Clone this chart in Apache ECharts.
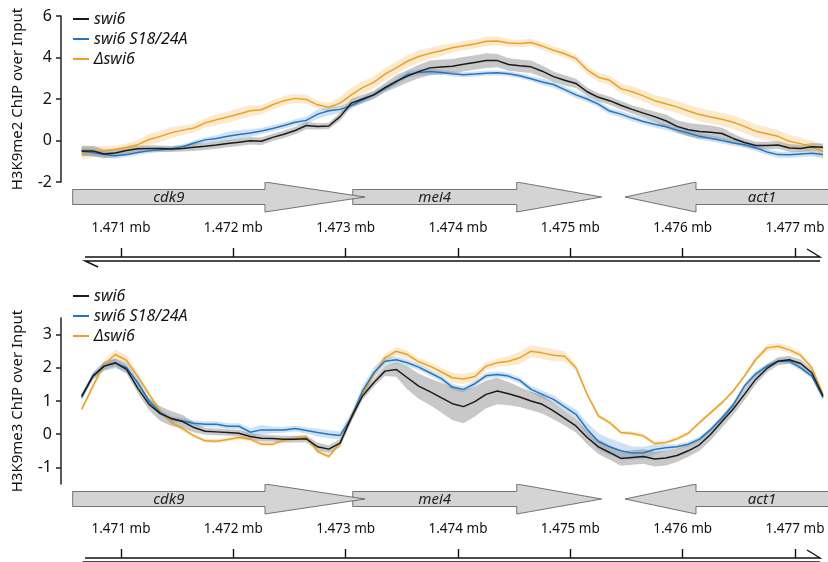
<!DOCTYPE html>
<html>
<head>
<meta charset="utf-8">
<script src="https://cdn.jsdelivr.net/npm/echarts@6/dist/echarts.min.js"></script>
<style>
html, body { margin: 0; padding: 0; background: #fff; }
#chart { width: 828px; height: 562px; }
</style>
</head>
<body>
<div id="chart"></div>
<script>
// genomic positions of the profile bins (kb)
const pos = [1470.65,1470.75,1470.85,1470.95,1471.05,1471.15,1471.25,1471.35,1471.45,1471.55,
  1471.65,1471.75,1471.85,1471.95,1472.05,1472.15,1472.25,1472.35,1472.45,1472.55,
  1472.65,1472.75,1472.85,1472.95,1473.05,1473.15,1473.25,1473.35,1473.45,1473.55,
  1473.65,1473.75,1473.85,1473.95,1474.05,1474.15,1474.25,1474.35,1474.45,1474.55,
  1474.65,1474.75,1474.85,1474.95,1475.05,1475.15,1475.25,1475.35,1475.45,1475.55,
  1475.65,1475.75,1475.85,1475.95,1476.05,1476.15,1476.25,1476.35,1476.45,1476.55,
  1476.65,1476.75,1476.85,1476.95,1477.05,1477.15,1477.25];

const names = ['swi6', 'swi6 S18/24A', '\u0394swi6'];

// H3K9me2 (top panel)
const me2_swi6 = [-0.5,-0.5,-0.65,-0.6,-0.48,-0.4,-0.38,-0.39,-0.41,-0.38,
  -0.33,-0.28,-0.22,-0.15,-0.08,-0.01,-0.04,0.15,0.3,0.48,
  0.72,0.68,0.7,1.15,1.8,2.0,2.2,2.55,2.85,3.1,
  3.32,3.5,3.54,3.58,3.67,3.76,3.85,3.85,3.66,3.6,
  3.55,3.34,3.08,2.9,2.75,2.35,2.08,1.92,1.7,1.5,
  1.32,1.15,0.95,0.68,0.52,0.43,0.4,0.34,0.1,-0.1,
  -0.24,-0.24,-0.22,-0.36,-0.38,-0.3,-0.33];
const me2_swi6_err = [0.25,0.25,0.22,0.2,0.15,0.15,0.15,0.15,0.15,0.15,
  0.18,0.18,0.18,0.18,0.18,0.18,0.18,0.18,0.18,0.18,
  0.18,0.15,0.15,0.2,0.2,0.2,0.2,0.22,0.3,0.3,
  0.32,0.35,0.35,0.35,0.35,0.35,0.35,0.32,0.3,0.3,
  0.3,0.28,0.25,0.25,0.22,0.2,0.2,0.2,0.2,0.2,
  0.22,0.25,0.3,0.3,0.32,0.35,0.32,0.28,0.22,0.2,
  0.18,0.18,0.18,0.18,0.18,0.18,0.18];
const me2_sa = [-0.52,-0.58,-0.67,-0.73,-0.68,-0.58,-0.5,-0.44,-0.4,-0.3,
  -0.12,0.03,0.1,0.2,0.29,0.36,0.46,0.58,0.72,0.88,
  0.97,1.27,1.43,1.5,1.68,1.95,2.2,2.5,2.82,3.18,
  3.28,3.32,3.28,3.22,3.17,3.2,3.24,3.26,3.22,3.12,
  2.98,2.82,2.7,2.45,2.2,2.0,1.75,1.42,1.27,1.08,
  0.92,0.78,0.66,0.5,0.36,0.2,0.1,0.0,-0.12,-0.2,
  -0.35,-0.55,-0.68,-0.69,-0.65,-0.62,-0.68];
const me2_sa_err = [0.18,0.18,0.15,0.15,0.12,0.12,0.12,0.12,0.12,0.12,
  0.12,0.12,0.15,0.22,0.22,0.18,0.15,0.15,0.15,0.15,
  0.18,0.22,0.22,0.18,0.15,0.15,0.15,0.15,0.15,0.15,
  0.15,0.15,0.12,0.12,0.12,0.12,0.12,0.12,0.12,0.12,
  0.12,0.15,0.15,0.15,0.15,0.15,0.15,0.15,0.15,0.15,
  0.15,0.15,0.15,0.15,0.15,0.15,0.15,0.15,0.15,0.15,
  0.15,0.15,0.15,0.15,0.15,0.15,0.15];
const me2_del = [-0.62,-0.55,-0.5,-0.42,-0.33,-0.2,0.05,0.2,0.38,0.5,
  0.6,0.85,1.0,1.13,1.28,1.43,1.48,1.72,1.92,2.03,
  1.98,1.72,1.6,1.8,2.2,2.55,2.8,3.2,3.5,3.82,
  4.05,4.2,4.33,4.47,4.57,4.65,4.78,4.8,4.7,4.68,
  4.72,4.55,4.35,4.18,3.95,3.4,3.05,2.9,2.5,2.35,
  2.15,1.92,1.77,1.62,1.42,1.25,1.13,1.02,0.88,0.68,
  0.45,0.33,0.2,-0.04,-0.15,-0.3,-0.55];
const me2_del_err = [0.3,0.27,0.22,0.18,0.18,0.22,0.27,0.27,0.27,0.22,
  0.22,0.22,0.27,0.27,0.27,0.27,0.22,0.22,0.22,0.22,
  0.22,0.18,0.22,0.3,0.35,0.3,0.3,0.3,0.3,0.3,
  0.3,0.27,0.27,0.22,0.22,0.22,0.22,0.22,0.18,0.18,
  0.18,0.18,0.18,0.18,0.18,0.22,0.22,0.22,0.22,0.27,
  0.27,0.27,0.3,0.3,0.3,0.32,0.32,0.32,0.32,0.32,
  0.32,0.32,0.3,0.3,0.3,0.3,0.35];

// H3K9me3 (bottom panel)
const me3_swi6 = [1.15,1.75,2.05,2.15,1.95,1.38,0.9,0.62,0.47,0.38,
  0.2,0.09,0.07,0.05,0.03,-0.07,-0.12,-0.13,-0.15,-0.15,
  -0.14,-0.38,-0.45,-0.27,0.5,1.15,1.55,1.9,1.95,1.7,
  1.45,1.28,1.1,0.92,0.83,0.98,1.2,1.3,1.22,1.12,
  1.0,0.9,0.7,0.48,0.25,-0.1,-0.38,-0.55,-0.73,-0.7,
  -0.67,-0.75,-0.72,-0.64,-0.5,-0.32,0.0,0.38,0.76,1.2,
  1.65,1.98,2.2,2.24,2.13,1.85,1.15];
const me3_swi6_err = [0.08,0.1,0.12,0.12,0.12,0.15,0.18,0.22,0.22,0.2,
  0.15,0.1,0.1,0.1,0.1,0.1,0.1,0.1,0.1,0.1,
  0.1,0.12,0.12,0.12,0.12,0.12,0.12,0.15,0.22,0.35,
  0.38,0.4,0.45,0.5,0.5,0.45,0.42,0.4,0.35,0.3,
  0.28,0.28,0.25,0.22,0.2,0.2,0.22,0.22,0.22,0.22,
  0.22,0.22,0.22,0.2,0.18,0.18,0.18,0.18,0.18,0.18,
  0.15,0.12,0.12,0.12,0.12,0.1,0.1];
const me3_sa = [1.1,1.75,2.05,2.14,2.0,1.55,1.0,0.65,0.46,0.4,
  0.33,0.3,0.3,0.24,0.24,0.06,0.13,0.13,0.13,0.17,
  0.11,0.05,0.0,-0.04,0.5,1.3,1.85,2.2,2.24,2.15,
  2.02,1.85,1.68,1.42,1.35,1.52,1.76,1.8,1.75,1.62,
  1.35,1.2,1.05,0.82,0.6,0.15,-0.22,-0.38,-0.5,-0.57,
  -0.56,-0.46,-0.41,-0.38,-0.3,-0.15,0.14,0.48,0.88,1.45,
  1.82,2.05,2.2,2.2,2.0,1.75,1.1];
const me3_sa_err = [0.06,0.1,0.15,0.15,0.15,0.12,0.08,0.08,0.08,0.08,
  0.08,0.09,0.09,0.09,0.09,0.12,0.15,0.1,0.09,0.09,
  0.09,0.12,0.12,0.12,0.15,0.15,0.15,0.15,0.1,0.1,
  0.09,0.09,0.09,0.09,0.09,0.09,0.09,0.09,0.09,0.09,
  0.1,0.12,0.12,0.12,0.15,0.2,0.25,0.25,0.25,0.2,
  0.18,0.15,0.1,0.08,0.08,0.08,0.08,0.08,0.08,0.08,
  0.08,0.08,0.08,0.08,0.08,0.08,0.08];
const me3_del = [0.75,1.45,2.1,2.4,2.22,1.73,1.2,0.7,0.35,0.16,
  -0.05,-0.2,-0.21,-0.16,-0.1,-0.15,-0.3,-0.3,-0.18,-0.12,
  -0.08,-0.52,-0.67,-0.27,0.45,1.2,1.8,2.3,2.5,2.4,
  2.18,2.05,1.88,1.7,1.66,1.74,2.05,2.15,2.2,2.3,
  2.5,2.45,2.38,2.35,2.0,1.2,0.55,0.35,0.05,0.02,
  -0.05,-0.28,-0.25,-0.14,0.03,0.35,0.65,0.95,1.3,1.75,
  2.25,2.6,2.65,2.54,2.38,2.0,1.2];
const me3_del_err = [0.06,0.1,0.12,0.15,0.15,0.12,0.1,0.06,0.06,0.06,
  0.06,0.06,0.06,0.06,0.06,0.06,0.06,0.06,0.06,0.06,
  0.06,0.06,0.06,0.06,0.06,0.06,0.1,0.12,0.12,0.12,
  0.1,0.12,0.12,0.15,0.15,0.15,0.12,0.12,0.15,0.18,
  0.18,0.18,0.18,0.15,0.1,0.06,0.06,0.06,0.06,0.06,
  0.06,0.06,0.06,0.06,0.06,0.06,0.06,0.06,0.06,0.06,
  0.08,0.1,0.1,0.1,0.1,0.08,0.08];

// gene track (kb): tail end, arrow tip, start of arrow head
const geneNames = ['cdk9', 'mei4', 'act1'];
const geneTail = [1470.570, 1473.063, 1477.900];
const geneTip = [1473.172, 1475.279, 1475.487];
const geneHead = [1472.282, 1474.523, 1476.119];
const strandSpan = [1470.68, 1477.223];
const tickKb = [1471, 1472, 1473, 1474, 1475, 1476, 1477];

const FONT = 'Noto Sans';
const colors = ['#1a1a1a', '#1f76c2', '#eca122'];
const fills = ['rgba(110,110,110,0.38)', 'rgba(40,120,200,0.22)', 'rgba(240,170,60,0.25)'];
const xMin = 1470.466, xMax = 1477.294;

const chart = echarts.init(document.getElementById('chart'), null, {renderer: 'canvas'});

function pairs(arr) {
    return arr.map((v, i) => [pos[i], v]);
}

// shaded error band: one polygon through mean+err and back along mean-err
function bandSeries(idx, mean, err, fill) {
    return {
        type: 'custom', xAxisIndex: idx, yAxisIndex: idx, silent: true, z: 1,
        clip: false, animation: false,
        data: [[pos[0], mean[0]]],
        renderItem: function (params, api) {
            const upper = mean.map((m, i) => api.coord([pos[i], m + err[i]]));
            const lower = mean.map((m, i) => api.coord([pos[i], m - err[i]])).reverse();
            return {type: 'polygon', shape: {points: upper.concat(lower)}, style: {fill: fill}};
        }
    };
}

function lineSeries(idx, k, data) {
    return {
        type: 'line', name: names[k], xAxisIndex: idx, yAxisIndex: idx, data: pairs(data),
        symbol: 'none', color: colors[k], lineStyle: {width: 1.5, color: colors[k]}, z: 3,
        animation: false
    };
}

function renderGene(params, api) {
    const cs = params.coordSys;
    const tail = api.coord([api.value(0), 0])[0];
    const tip = api.coord([api.value(1), 0])[0];
    const head = api.coord([api.value(2), 0])[0];
    const yc = cs.y + 15;
    const pts = [[tail, yc - 7.5], [head, yc - 7.5], [head, yc - 15], [tip, yc],
        [head, yc + 15], [head, yc + 7.5], [tail, yc + 7.5]];
    const tailVis = Math.max(cs.x, Math.min(cs.x + cs.width, tail));
    return {
        type: 'group',
        children: [
            {type: 'polygon', shape: {points: pts},
             style: {fill: '#d4d4d4', stroke: '#555', lineWidth: 0.8}},
            {type: 'text', x: (tailVis + head) / 2, y: yc + 0.5,
             style: {text: geneNames[api.value(3)], fontFamily: FONT, fontStyle: 'italic',
                     fontSize: 15, fill: '#222', align: 'center', verticalAlign: 'middle'}}
        ]
    };
}

function renderStrand(params, api) {
    const cs = params.coordSys;
    const x1 = api.coord([api.value(0), 0])[0];
    const x2 = api.coord([api.value(1), 0])[0];
    const y = cs.y + cs.height;
    const st = {stroke: '#111', lineWidth: 1.4, fill: null};
    return {
        type: 'group',
        children: [
            {type: 'polyline', shape: {points: [[x1, y], [x2, y], [x2 - 13, y - 8]]}, style: st},
            {type: 'polyline', shape: {points: [[x2, y + 4], [x1, y + 4], [x1 + 13, y + 10]]}, style: st}
        ]
    };
}

const geneData = [1, 2, 0].map(i => [geneTail[i], geneTip[i], geneHead[i], i]);

function geneTrack(idx) {
    return [
        {type: 'custom', xAxisIndex: idx, yAxisIndex: idx, renderItem: renderGene, clip: true,
         data: geneData, silent: true, animation: false, z: 2},
        {type: 'custom', xAxisIndex: idx, yAxisIndex: idx, renderItem: renderStrand, clip: false,
         data: [[strandSpan[0], strandSpan[1]]], silent: true, animation: false, z: 2}
    ];
}

function signalY(idx, name, min, max, ticks) {
    return {
        gridIndex: idx, type: 'value', min: min, max: max,
        name: name, nameLocation: 'middle', nameGap: 36, nameRotate: 90,
        nameTextStyle: {fontFamily: FONT, fontSize: 15, color: '#111'},
        axisLine: {show: true, lineStyle: {color: '#222', width: 1.5}},
        axisTick: {show: true, length: 5, lineStyle: {color: '#222', width: 1.5}, customValues: ticks},
        axisLabel: {fontFamily: FONT, fontSize: 16, color: '#111', margin: 9, customValues: ticks},
        splitLine: {show: false}
    };
}

function geneX(idx) {
    return {
        gridIndex: idx, type: 'value', min: xMin, max: xMax,
        axisLine: {show: false},
        axisTick: {show: true, inside: true, length: 9, lineStyle: {color: '#111', width: 1.4}, customValues: tickKb},
        axisLabel: {show: true, inside: true, margin: 22, fontFamily: FONT, fontSize: 13.5, color: '#111',
                    customValues: tickKb, formatter: v => (v / 1000).toFixed(3) + ' mb'},
        splitLine: {show: false}
    };
}

function hiddenX(idx) {
    return {gridIndex: idx, type: 'value', min: xMin, max: xMax, show: false, splitLine: {show: false}};
}

function legendAt(top) {
    return {
        data: names, orient: 'vertical', left: 68, top: top, itemGap: 0,
        icon: 'rect', itemWidth: 16, itemHeight: 2,
        textStyle: {fontFamily: FONT, fontStyle: 'italic', fontSize: 16, color: '#111', lineHeight: 20},
        selectedMode: false
    };
}

const option = {
    backgroundColor: '#fff',
    animation: false,
    grid: [
        {left: 61, top: 16, width: 767, height: 166, outerBoundsMode: 'none'},
        {left: 61, top: 182, width: 767, height: 75, outerBoundsMode: 'none'},
        {left: 61, top: 318, width: 767, height: 166, outerBoundsMode: 'none'},
        {left: 61, top: 484, width: 767, height: 74, outerBoundsMode: 'none'}
    ],
    xAxis: [hiddenX(0), geneX(1), hiddenX(2), geneX(3)],
    yAxis: [
        signalY(0, 'H3K9me2 ChIP over Input', -2, 6, [-2, 0, 2, 4, 6]),
        {gridIndex: 1, type: 'value', min: 0, max: 1, show: false},
        signalY(2, 'H3K9me3 ChIP over Input', -1.5, 3.5, [-1, 0, 1, 2, 3]),
        {gridIndex: 3, type: 'value', min: 0, max: 1, show: false}
    ],
    legend: [legendAt(4), legendAt(281)],
    series: [
        bandSeries(0, me2_del, me2_del_err, fills[2]),
        bandSeries(0, me2_sa, me2_sa_err, fills[1]),
        bandSeries(0, me2_swi6, me2_swi6_err, fills[0]),
        lineSeries(0, 2, me2_del), lineSeries(0, 1, me2_sa), lineSeries(0, 0, me2_swi6),
        bandSeries(2, me3_del, me3_del_err, fills[2]),
        bandSeries(2, me3_sa, me3_sa_err, fills[1]),
        bandSeries(2, me3_swi6, me3_swi6_err, fills[0]),
        lineSeries(2, 2, me3_del), lineSeries(2, 1, me3_sa), lineSeries(2, 0, me3_swi6)
    ].concat(geneTrack(1), geneTrack(3))
};

chart.setOption(option);
</script>
</body>
</html>
